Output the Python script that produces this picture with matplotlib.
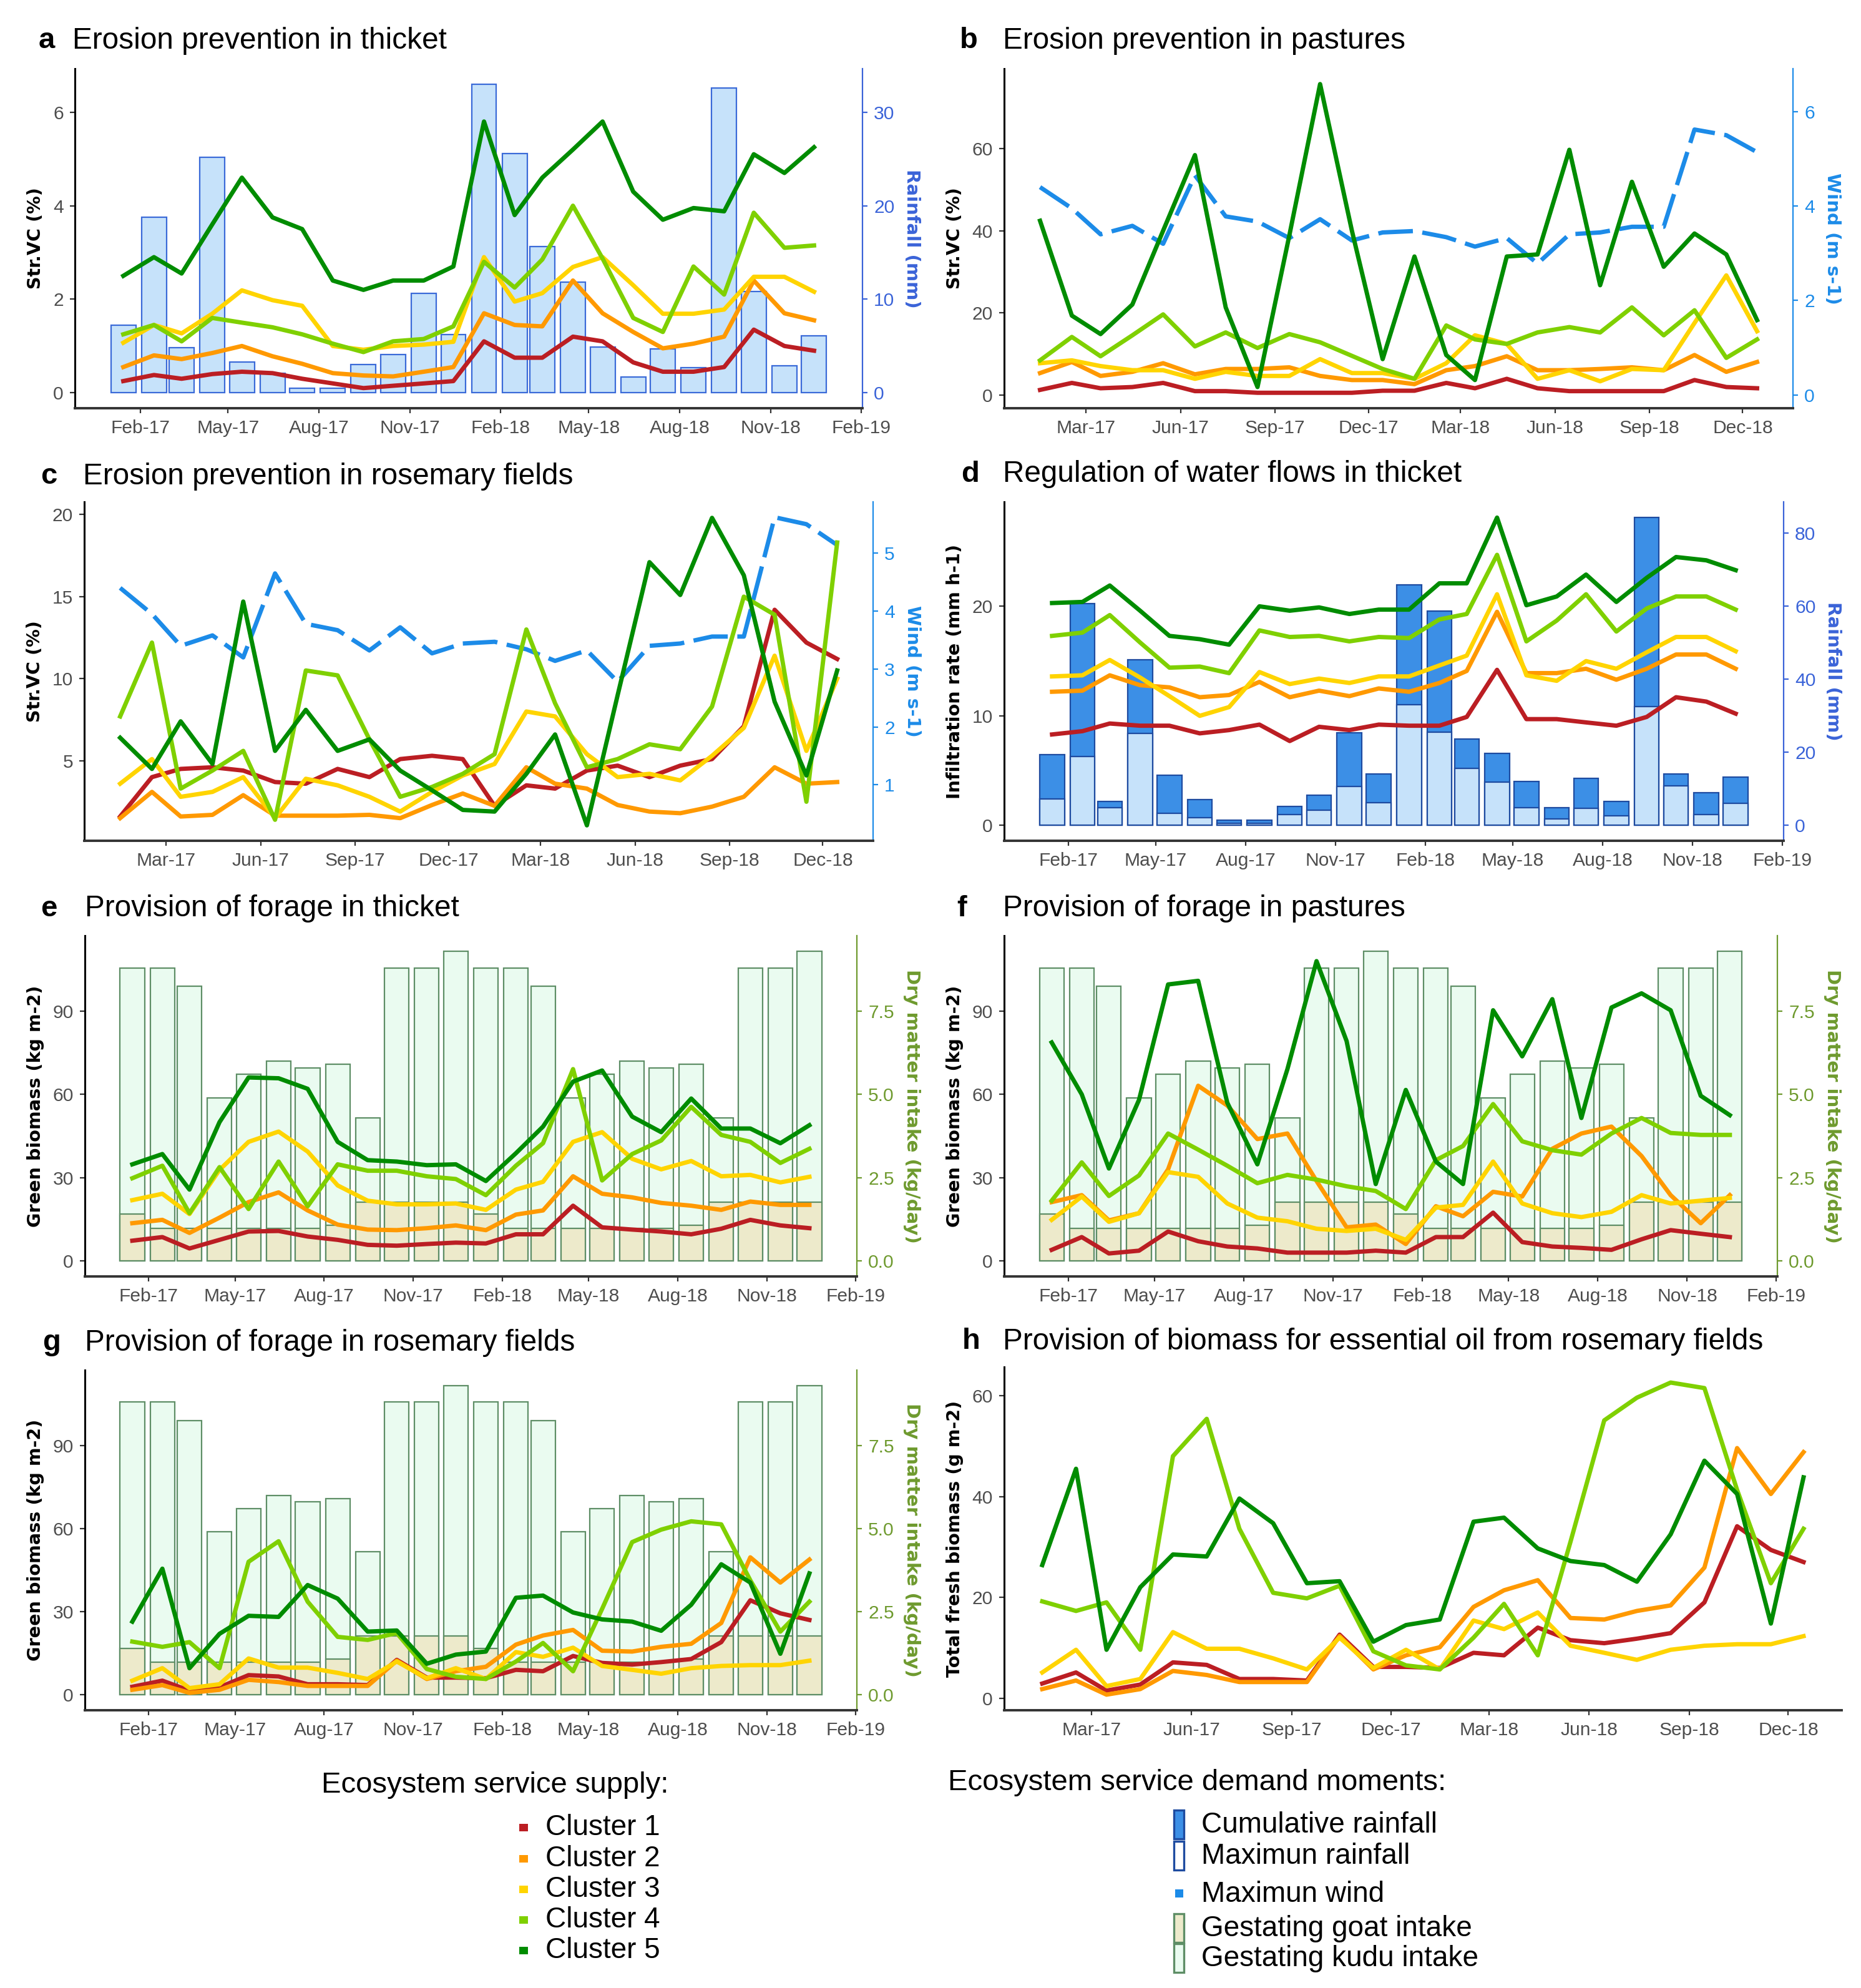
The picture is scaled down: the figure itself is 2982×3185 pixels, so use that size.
import matplotlib
matplotlib.use("Agg")
import matplotlib.pyplot as plt
from matplotlib.patches import Rectangle
import matplotlib.dates as mdates
import pandas as pd

plt.rcParams["font.family"] = ["Liberation Sans", "DejaVu Sans"]

W, H, DPI = 2982, 3185, 200

# months (mid-month sampling)
months = pd.date_range("2017-01-01", periods=24, freq="MS") + pd.Timedelta(days=14)
ticks_feb = pd.date_range("2017-02-01", "2019-02-01", freq="3MS")
ticks_mar = pd.date_range("2017-03-01", "2018-12-01", freq="3MS")
xlim_bars = (pd.Timestamp("2016-11-27"), pd.Timestamp("2019-02-02"))
xlim_lines = (pd.Timestamp("2016-12-11"), pd.Timestamp("2019-01-19"))

cluster_names = ["Cluster 1", "Cluster 2", "Cluster 3", "Cluster 4", "Cluster 5"]
cluster_colors = ["#BB1E23", "#FF9900", "#FFD400", "#7FD000", "#008C00"]

# demand moments
max_rain = [7.2, 18.8, 4.8, 25.2, 3.3, 2.1, 0.5, 0.5, 3.0, 4.1, 10.6, 6.2,
            33.0, 25.6, 15.6, 11.8, 4.9, 1.7, 4.7, 2.7, 32.6, 10.8, 2.9, 6.1]
cum_rain = [19.3, 60.8, 6.6, 45.4, 13.7, 7.0, 1.5, 1.5, 5.2, 8.3, 25.3, 14.1,
            65.8, 58.7, 23.6, 19.7, 12.0, 4.8, 12.9, 6.6, 84.4, 14.1, 9.0, 13.3]
max_wind = [4.4, 3.95, 3.4, 3.58, 3.2, 4.65, 3.78, 3.67, 3.32, 3.72, 3.27, 3.44,
            3.47, 3.34, 3.14, 3.32, 2.78, 3.4, 3.44, 3.56, 3.56, 5.62, 5.5, 5.14]
kudu_intake = [8.8, 8.8, 8.25, 4.9, 5.6, 6.0, 5.8, 5.9, 4.3, 8.8, 8.8, 9.3,
               8.8, 8.8, 8.25, 4.9, 5.6, 6.0, 5.8, 5.9, 4.3, 8.8, 8.8, 9.3]
goat_intake = [1.4, 0.98, 0.98, 0.98, 0.98, 0.98, 0.98, 1.07, 1.77, 1.77, 1.77, 1.77,
               1.4, 0.98, 0.98, 0.98, 0.98, 0.98, 0.98, 1.07, 1.77, 1.77, 1.77, 1.77]

# a - erosion prevention in thicket
ero_thicket_c1 = [0.25, 0.38, 0.3, 0.4, 0.45, 0.42, 0.3, 0.2, 0.1, 0.15, 0.2, 0.25,
                  1.1, 0.75, 0.75, 1.2, 1.1, 0.65, 0.45, 0.45, 0.55, 1.35, 1.0, 0.9]
ero_thicket_c2 = [0.55, 0.8, 0.72, 0.85, 1.0, 0.78, 0.62, 0.42, 0.37, 0.35, 0.45, 0.55,
                  1.7, 1.45, 1.42, 2.4, 1.7, 1.3, 0.95, 1.05, 1.2, 2.4, 1.7, 1.55]
ero_thicket_c3 = [1.07, 1.45, 1.27, 1.69, 2.19, 1.98, 1.86, 1.0, 0.92, 1.0, 1.03, 1.09,
                  2.9, 1.95, 2.13, 2.69, 2.9, 2.3, 1.69, 1.69, 1.78, 2.48, 2.48, 2.16]
ero_thicket_c4 = [1.25, 1.45, 1.1, 1.6, 1.5, 1.4, 1.25, 1.05, 0.87, 1.1, 1.15, 1.42,
                  2.8, 2.25, 2.85, 4.0, 2.87, 1.6, 1.3, 2.7, 2.1, 3.85, 3.1, 3.15]
ero_thicket_c5 = [2.5, 2.9, 2.55, 3.6, 4.6, 3.75, 3.5, 2.4, 2.2, 2.4, 2.4, 2.7,
                  5.8, 3.8, 4.6, 5.2, 5.8, 4.3, 3.7, 3.95, 3.88, 5.1, 4.7, 5.25]

# b - erosion prevention in pastures
ero_pasture_c1 = [1.2, 2.9, 1.6, 1.9, 2.9, 0.9, 0.9, 0.5, 0.5, 0.5, 0.5, 1.0,
                  1.0, 2.9, 1.6, 3.9, 1.6, 0.9, 0.9, 0.9, 0.9, 3.6, 1.9, 1.6]
ero_pasture_c2 = [5.3, 8.0, 4.6, 5.6, 7.7, 5.0, 6.3, 6.3, 6.7, 4.6, 3.6, 3.6,
                  2.6, 6.0, 7.0, 9.4, 6.0, 6.0, 6.3, 6.7, 6.0, 9.7, 5.6, 8.0]
ero_pasture_c3 = [7.7, 8.4, 7.0, 6.0, 6.0, 3.9, 5.6, 4.6, 4.6, 8.7, 5.3, 5.3,
                  3.9, 7.7, 14.5, 12.4, 3.9, 6.0, 3.3, 6.3, 6.0, 17.5, 29.1, 15.5]
ero_pasture_c4 = [8.4, 14.1, 9.4, 14.5, 19.6, 11.8, 15.2, 11.4, 14.8, 12.8, 9.5, 6.3,
                  3.9, 16.9, 13.5, 12.4, 15.2, 16.5, 15.2, 21.3, 14.5, 20.6, 9.0, 13.5]
ero_pasture_c5 = [42.4, 19.3, 14.8, 22.0, 40.0, 58.4, 21.3, 1.9, 38.8, 75.7, 40.0, 8.7,
                  33.7, 9.7, 3.6, 33.7, 34.2, 59.7, 26.7, 51.9, 31.2, 39.3, 34.2, 18.2]

# c - erosion prevention in rosemary fields
ero_rosemary_c1 = [1.6, 4.0, 4.5, 4.6, 4.4, 3.7, 3.6, 4.5, 4.0, 5.1, 5.3, 5.1,
                   2.25, 3.5, 3.3, 4.4, 4.7, 4.0, 4.7, 5.1, 7.1, 14.2, 12.2, 11.2]
ero_rosemary_c2 = [1.5, 3.1, 1.6, 1.7, 2.9, 1.65, 1.65, 1.65, 1.7, 1.5, 2.3, 3.0,
                   2.25, 4.6, 3.6, 3.3, 2.3, 1.9, 1.8, 2.2, 2.8, 4.6, 3.6, 3.7]
ero_rosemary_c3 = [3.6, 5.1, 2.8, 3.1, 4.0, 1.5, 3.9, 3.5, 2.8, 1.9, 3.1, 4.1,
                   4.8, 8.0, 7.7, 5.4, 4.0, 4.2, 3.8, 5.3, 7.0, 11.4, 5.6, 10.0]
ero_rosemary_c4 = [7.7, 12.2, 3.3, 4.4, 5.6, 1.4, 10.5, 10.2, 6.3, 2.8, 3.4, 4.2,
                   5.4, 13.0, 8.5, 4.6, 5.1, 6.0, 5.7, 8.3, 15.0, 13.9, 2.5, 18.3]
ero_rosemary_c5 = [6.4, 4.5, 7.4, 4.8, 14.7, 5.6, 8.1, 5.6, 6.3, 4.4, 3.2, 2.0,
                   1.9, 4.2, 6.6, 1.06, 9.0, 17.1, 15.1, 19.8, 16.3, 8.6, 4.1, 10.5]

# d - infiltration rate in thicket
infil_c1 = [8.3, 8.6, 9.3, 9.1, 9.1, 8.4, 8.7, 9.2, 7.7, 9.0, 8.7, 9.2,
            9.1, 9.1, 9.9, 14.2, 9.7, 9.7, 9.4, 9.1, 9.9, 11.7, 11.3, 10.2]
infil_c2 = [12.2, 12.3, 13.7, 12.8, 12.6, 11.7, 11.9, 13.1, 11.7, 12.3, 11.8, 12.5,
            12.2, 13.0, 14.1, 19.5, 13.9, 13.9, 14.3, 13.3, 14.3, 15.6, 15.6, 14.3]
infil_c3 = [13.6, 13.7, 15.1, 13.5, 11.8, 10.0, 10.8, 14.0, 12.9, 13.4, 13.0, 13.6,
            13.6, 14.6, 15.5, 21.1, 13.7, 13.2, 15.0, 14.3, 15.8, 17.2, 17.2, 15.9]
infil_c4 = [17.3, 17.6, 19.2, 16.7, 14.4, 14.5, 13.9, 17.8, 17.2, 17.3, 16.8, 17.2,
            17.1, 18.8, 19.3, 24.7, 16.8, 18.7, 21.1, 17.7, 19.8, 20.9, 20.9, 19.7]
infil_c5 = [20.3, 20.4, 21.9, 19.6, 17.3, 17.0, 16.5, 20.0, 19.6, 19.9, 19.3, 19.7,
            19.7, 22.1, 22.1, 28.1, 20.1, 20.9, 22.9, 20.4, 22.6, 24.5, 24.2, 23.3]

# e - forage in thicket
forage_thicket_c1 = [7.3, 8.6, 4.5, 7.6, 10.6, 10.8, 8.8, 7.6, 5.8, 5.5, 6.1, 6.6,
                     6.3, 9.6, 9.6, 19.9, 12.1, 11.3, 10.6, 9.6, 11.6, 14.8, 12.8, 11.8]
forage_thicket_c2 = [13.6, 14.8, 10.1, 15.6, 21.2, 24.7, 18.2, 13.1, 11.3, 11.1, 11.8, 12.8,
                     11.1, 16.7, 18.2, 30.5, 24.2, 22.9, 20.9, 19.9, 18.4, 21.4, 20.2, 20.2]
forage_thicket_c3 = [21.9, 24.2, 16.9, 32.8, 42.9, 46.6, 39.4, 27.2, 21.7, 20.4, 20.4, 20.7,
                     18.4, 25.7, 28.5, 42.9, 46.4, 36.8, 33.0, 36.0, 30.5, 31.0, 28.3, 30.3]
forage_thicket_c4 = [29.8, 34.3, 17.2, 33.8, 18.7, 35.8, 19.7, 34.8, 32.5, 32.5, 30.5, 29.5,
                     23.7, 34.3, 42.4, 69.1, 29.0, 38.5, 43.4, 55.5, 45.4, 42.9, 35.3, 40.4]
forage_thicket_c5 = [34.8, 38.5, 25.7, 50.0, 66.1, 65.8, 62.0, 42.9, 36.3, 35.8, 34.5, 34.8,
                     28.8, 38.8, 48.4, 64.6, 68.6, 52.0, 46.4, 58.5, 47.7, 47.7, 42.4, 48.9]

# f - forage in pastures
forage_pasture_c1 = [4.0, 8.6, 2.7, 3.7, 10.6, 7.1, 5.2, 4.5, 3.0, 3.0, 3.0, 3.7,
                     3.0, 8.6, 8.6, 17.4, 6.8, 5.2, 4.7, 4.0, 7.8, 11.1, 9.8, 8.6]
forage_pasture_c2 = [21.2, 23.7, 14.6, 17.2, 33.0, 63.1, 56.0, 43.9, 45.9, 28.8, 12.1, 13.1,
                     6.1, 19.7, 16.1, 24.9, 23.2, 40.4, 45.9, 48.4, 37.8, 23.7, 13.6, 23.7]
forage_pasture_c3 = [14.8, 23.2, 14.1, 17.2, 32.0, 30.3, 20.7, 15.6, 14.3, 11.6, 10.8, 11.6,
                     7.6, 19.2, 20.2, 35.8, 20.7, 17.2, 15.8, 17.7, 23.7, 20.7, 21.7, 22.7]
forage_pasture_c4 = [21.7, 35.5, 23.4, 30.8, 45.9, 40.1, 34.3, 28.0, 31.0, 29.3, 26.9, 25.2,
                     18.7, 36.3, 41.4, 56.5, 43.1, 39.9, 38.3, 45.9, 51.5, 46.1, 45.4, 45.4]
forage_pasture_c5 = [78.7, 60.0, 33.3, 58.0, 99.6, 100.9, 57.0, 34.8, 69.1, 108.0, 79.2, 27.7,
                     61.6, 35.8, 27.7, 90.3, 73.7, 94.3, 51.5, 91.3, 96.4, 90.3, 59.5, 52.5]

# g and h - rosemary fields biomass
rosemary_c1 = [2.9, 5.1, 1.5, 2.7, 7.1, 6.6, 3.8, 3.8, 3.5, 12.6, 6.2, 6.2,
               6.0, 9.0, 8.5, 14.0, 11.5, 10.9, 11.8, 12.9, 19.0, 34.1, 29.4, 27.0]
rosemary_c2 = [1.8, 3.5, 0.7, 1.8, 5.4, 4.6, 3.2, 3.2, 3.2, 12.3, 5.7, 8.5,
               10.1, 18.1, 21.4, 23.4, 15.9, 15.6, 17.3, 18.4, 25.9, 49.6, 40.5, 48.8]
rosemary_c3 = [5.1, 9.6, 2.4, 3.8, 13.1, 9.8, 9.8, 7.9, 5.7, 12.0, 6.0, 9.6,
               5.7, 15.4, 13.7, 17.0, 10.4, 9.0, 7.6, 9.6, 10.4, 10.7, 10.7, 12.3]
rosemary_c4 = [19.2, 17.3, 19.0, 9.6, 48.0, 55.4, 33.6, 20.9, 19.8, 22.3, 9.3, 6.5,
               5.7, 12.0, 18.7, 8.5, 31.0, 55.1, 59.6, 62.6, 61.5, 41.3, 22.8, 33.6]
rosemary_c5 = [26.4, 45.5, 9.6, 22.0, 28.5, 28.1, 39.6, 34.7, 22.8, 23.2, 11.2, 14.5,
               15.6, 35.0, 35.8, 29.7, 27.2, 26.4, 23.1, 32.5, 47.1, 40.5, 14.8, 43.8]

# colours
rain_col = "#3A63D8"
wind_col = "#1C8BE8"
intake_col = "#6E9A2E"
maxrain_fill, maxrain_edge = "#C6E2FA", "#3A6AD8"
cumrain_fill, cumrain_edge = "#3C8FE6", "#1E4BA0"
kudu_fill, goat_fill, intake_edge = "#EAFBF0", "#EDEACB", "#5E8E66"
BAR_W = 25.2
LW = 2.5

fig = plt.figure(figsize=(W / DPI, H / DPI), dpi=DPI)


def panel(box, letter, title, title_pos, series, ylabel, yticks, xticks, xlim,
          layers=(), k=1.0, rlabel=None, rcol=None, rticks=None, rfmt="%g"):
    # k: left-axis units per right-axis unit
    l, t, r, b = box
    ax = fig.add_axes([l / W, 1 - b / H, (r - l) / W, (b - t) / H])
    allv = [v for s in series for v in s]
    for kind, vals, st in layers:
        allv += [v * k for v in vals]
        if kind == "bar":
            allv.append(0)
    lo, hi = min(allv), max(allv)
    pad = 0.05 * (hi - lo)
    lo, hi = lo - pad, hi + pad

    if layers:
        ax2 = ax.twinx()
        for kind, vals, st in layers:
            if kind == "bar":
                ax2.bar(months, vals, width=BAR_W, linewidth=0.8, **st)
            else:
                ax2.plot(months, vals, **st)
        ax2.set_ylim(lo / k, hi / k)
        ax2.set_yticks(rticks)
        ax2.yaxis.set_major_formatter(matplotlib.ticker.FormatStrFormatter(rfmt))
        for s in ["left", "top", "bottom"]:
            ax2.spines[s].set_visible(False)
        ax2.spines["right"].set_color(rcol)
        ax2.spines["right"].set_linewidth(0.8)
        ax2.tick_params(axis="y", colors=rcol, labelsize=10.8, length=3, width=0.8)
        ax2.set_ylabel(rlabel, rotation=270, va="bottom", color=rcol,
                       fontfamily="DejaVu Sans", fontweight="bold", fontsize=10.5,
                       labelpad=5)
        ax.set_zorder(ax2.get_zorder() + 1)
        ax.patch.set_visible(False)

    for vals, col in zip(series, cluster_colors):
        ax.plot(months, vals, color=col, lw=LW, solid_joinstyle="round")

    ax.set_ylim(lo, hi)
    ax.set_xlim(*xlim)
    ax.set_yticks(yticks)
    ax.set_xticks(xticks)
    ax.xaxis.set_major_formatter(mdates.DateFormatter("%b-%y"))
    for s in ["top", "right"]:
        ax.spines[s].set_visible(False)
    ax.spines["left"].set_color("black")
    ax.spines["left"].set_linewidth(1.1)
    ax.spines["bottom"].set_color("#333333")
    ax.spines["bottom"].set_linewidth(1.4)
    ax.tick_params(axis="both", direction="out", length=3, width=0.8,
                   color="#333333", labelsize=10.8, labelcolor="#4D4D4D")
    ax.set_ylabel(ylabel, fontfamily="DejaVu Sans", fontweight="bold",
                  fontsize=10.3, labelpad=5)

    lx, tx, ty = title_pos
    fig.text(lx / W, 1 - ty / H, letter, fontsize=17, fontweight="bold", va="center")
    fig.text(tx / W, 1 - ty / H, title, fontsize=17.2, va="center")
    return ax


wind_style = dict(color=wind_col, lw=LW, linestyle=(0, (8, 2.2)))

panel((120, 110, 1382, 654), "a", "Erosion prevention in thicket", (62, 116, 65),
      [ero_thicket_c1, ero_thicket_c2, ero_thicket_c3, ero_thicket_c4, ero_thicket_c5],
      "Str.VC (%)", [0, 2, 4, 6], ticks_feb, xlim_bars,
      layers=[("bar", max_rain, dict(color=maxrain_fill, edgecolor=maxrain_edge))],
      k=1 / 5, rlabel="Rainfall (mm)", rcol=rain_col, rticks=[0, 10, 20, 30])

panel((1609, 110, 2873, 654), "b", "Erosion prevention in pastures", (1538, 1607, 65),
      [ero_pasture_c1, ero_pasture_c2, ero_pasture_c3, ero_pasture_c4, ero_pasture_c5],
      "Str.VC (%)", [0, 20, 40, 60], ticks_mar, xlim_lines,
      layers=[("line", max_wind, wind_style)],
      k=11.5, rlabel="Wind (m s-1)", rcol=wind_col, rticks=[0, 2, 4, 6])

panel((135, 804, 1399, 1347), "c", "Erosion prevention in rosemary fields", (65, 133, 763),
      [ero_rosemary_c1, ero_rosemary_c2, ero_rosemary_c3, ero_rosemary_c4, ero_rosemary_c5],
      "Str.VC (%)", [5, 10, 15, 20], ticks_mar, xlim_lines,
      layers=[("line", max_wind, wind_style)],
      k=3.53, rlabel="Wind (m s-1)", rcol=wind_col, rticks=[1, 2, 3, 4, 5])

panel((1609, 804, 2858, 1347), "d", "Regulation of water flows in thicket", (1540, 1607, 760),
      [infil_c1, infil_c2, infil_c3, infil_c4, infil_c5],
      "Infiltration rate (mm h-1)", [0, 10, 20], ticks_feb, xlim_bars,
      layers=[("bar", cum_rain, dict(color=cumrain_fill, edgecolor=cumrain_edge)),
              ("bar", max_rain, dict(color=maxrain_fill, edgecolor=cumrain_edge))],
      k=1 / 3, rlabel="Rainfall (mm)", rcol=rain_col, rticks=[0, 20, 40, 60, 80])

intake_layers = [("bar", kudu_intake, dict(color=kudu_fill, edgecolor=intake_edge)),
                 ("bar", goat_intake, dict(color=goat_fill, edgecolor=intake_edge))]

panel((136, 1499, 1373, 2045), "e", "Provision of forage in thicket", (65, 136, 1456),
      [forage_thicket_c1, forage_thicket_c2, forage_thicket_c3, forage_thicket_c4,
       forage_thicket_c5],
      "Green biomass (kg m-2)", [0, 30, 60, 90], ticks_feb, xlim_bars,
      layers=intake_layers, k=12.0, rlabel="Dry matter intake (kg/day)",
      rcol=intake_col, rticks=[0, 2.5, 5, 7.5], rfmt="%.1f")

panel((1609, 1499, 2848, 2045), "f", "Provision of forage in pastures", (1533, 1607, 1456),
      [forage_pasture_c1, forage_pasture_c2, forage_pasture_c3, forage_pasture_c4,
       forage_pasture_c5],
      "Green biomass (kg m-2)", [0, 30, 60, 90], ticks_feb, xlim_bars,
      layers=intake_layers, k=12.0, rlabel="Dry matter intake (kg/day)",
      rcol=intake_col, rticks=[0, 2.5, 5, 7.5], rfmt="%.1f")

panel((136, 2195, 1373, 2740), "g", "Provision of forage in rosemary fields", (68, 136, 2151),
      [rosemary_c1, rosemary_c2, rosemary_c3, rosemary_c4, rosemary_c5],
      "Green biomass (kg m-2)", [0, 30, 60, 90], ticks_feb, xlim_bars,
      layers=intake_layers, k=12.0, rlabel="Dry matter intake (kg/day)",
      rcol=intake_col, rticks=[0, 2.5, 5, 7.5], rfmt="%.1f")

panel((1609, 2190, 2951, 2740), "h",
      "Provision of biomass for essential oil from rosemary fields", (1542, 1607, 2149),
      [rosemary_c1, rosemary_c2, rosemary_c3, rosemary_c4, rosemary_c5],
      "Total fresh biomass (g m-2)", [0, 20, 40, 60], ticks_mar, xlim_lines)


# legends drawn by hand, ggplot style
def key(x0, y0, w, h, fc, ec=None, lw=1.2):
    fig.add_artist(Rectangle((x0 / W, 1 - (y0 + h) / H), w / W, h / H,
                             facecolor=fc, edgecolor=ec if ec else fc,
                             linewidth=lw if ec else 0, transform=fig.transFigure))


fig.text(793 / W, 1 - 2860 / H, "Ecosystem service supply:", fontsize=17,
         ha="center", va="center")
cluster_y = [2928, 2978, 3027, 3076, 3125]
for name, col, y in zip(cluster_names, cluster_colors, cluster_y):
    key(832, y - 6, 14, 12, col)
    fig.text(874 / W, 1 - y / H, name, fontsize=16.5, va="center")

fig.text(1918 / W, 1 - 2856 / H, "Ecosystem service demand moments:", fontsize=17,
         ha="center", va="center")
key(1881, 2900, 16, 46, cumrain_fill, cumrain_edge)
fig.text(1925 / W, 1 - 2924 / H, "Cumulative rainfall", fontsize=16.5, va="center")
key(1881, 2950, 16, 46, "white", cumrain_edge)
fig.text(1925 / W, 1 - 2974 / H, "Maximun rainfall", fontsize=16.5, va="center")
key(1883, 3027, 13, 13, wind_col)
fig.text(1925 / W, 1 - 3035 / H, "Maximun wind", fontsize=16.5, va="center")
key(1881, 3066, 16, 46, goat_fill, intake_edge)
fig.text(1925 / W, 1 - 3090 / H, "Gestating goat intake", fontsize=16.5, va="center")
key(1881, 3114, 16, 46, kudu_fill, intake_edge)
fig.text(1925 / W, 1 - 3138 / H, "Gestating kudu intake", fontsize=16.5, va="center")

fig.savefig("out.png", dpi=DPI, facecolor="white")
